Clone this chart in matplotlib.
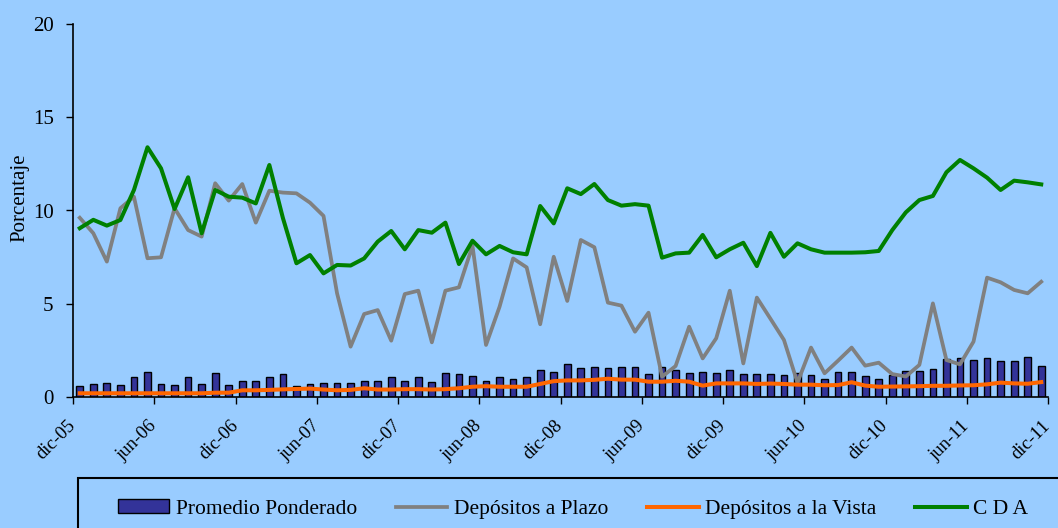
import numpy as np
import matplotlib
matplotlib.use("Agg")
import matplotlib.pyplot as plt
import matplotlib.transforms as mtransforms
from matplotlib.patches import Rectangle

# Tasas mensuales (porcentaje), dic-05 .. nov-11
promedio = [0.6, 0.68, 0.73, 0.66, 1.07, 1.34, 0.71, 0.64, 1.09, 0.71, 1.3, 0.64,
            0.87, 0.87, 1.09, 1.25, 0.61, 0.7, 0.73, 0.77, 0.75, 0.87, 0.87, 1.05,
            0.87, 1.09, 0.82, 1.27, 1.22, 1.13, 0.87, 1.05, 0.98, 1.05, 1.45, 1.34,
            1.79, 1.58, 1.61, 1.56, 1.61, 1.6, 1.22, 1.61, 1.43, 1.3, 1.36, 1.29,
            1.43, 1.25, 1.22, 1.26, 1.2, 1.3, 1.2, 0.98, 1.36, 1.34, 1.11, 0.98,
            1.16, 1.4, 1.4, 1.52, 2.06, 2.07, 1.97, 2.07, 1.91, 1.95, 2.13, 1.64]
plazo = [9.61, 8.78, 7.26, 10.12, 10.74, 7.44, 7.49, 10.12, 8.95, 8.6, 11.46, 10.53,
         11.42, 9.35, 11.06, 10.96, 10.92, 10.42, 9.71, 5.56, 2.7, 4.45, 4.66, 3.02,
         5.52, 5.7, 2.93, 5.7, 5.88, 8.1, 2.79, 4.84, 7.43, 6.95, 3.9, 7.52,
         5.15, 8.42, 8.03, 5.06, 4.9, 3.5, 4.52, 1.09, 1.66, 3.77, 2.07, 3.15,
         5.7, 1.8, 5.33, 4.2, 3.06, 0.77, 2.65, 1.27, 1.95, 2.65, 1.68, 1.84,
         1.23, 1.1, 1.72, 5.02, 1.98, 1.75, 2.97, 6.4, 6.15, 5.74, 5.56, 6.18]
vista = [0.2, 0.2, 0.2, 0.2, 0.2, 0.2, 0.2, 0.2, 0.2, 0.2, 0.23, 0.23,
         0.36, 0.36, 0.38, 0.41, 0.43, 0.45, 0.4, 0.36, 0.38, 0.47, 0.4, 0.4,
         0.42, 0.42, 0.4, 0.42, 0.47, 0.55, 0.58, 0.55, 0.55, 0.55, 0.7, 0.85,
         0.89, 0.89, 0.92, 0.98, 0.93, 0.93, 0.82, 0.82, 0.87, 0.82, 0.61, 0.73,
         0.73, 0.73, 0.7, 0.72, 0.7, 0.66, 0.66, 0.63, 0.64, 0.79, 0.61, 0.55,
         0.56, 0.57, 0.58, 0.6, 0.6, 0.62, 0.63, 0.68, 0.77, 0.73, 0.71, 0.8]
cda = [9.05, 9.5, 9.19, 9.49, 11.1, 13.39, 12.26, 10.08, 11.78, 8.78, 11.1, 10.74,
       10.69, 10.38, 12.44, 9.6, 7.17, 7.61, 6.63, 7.08, 7.05, 7.43, 8.33, 8.9,
       7.92, 8.95, 8.81, 9.35, 7.13, 8.38, 7.65, 8.1, 7.76, 7.65, 10.24, 9.31,
       11.19, 10.88, 11.42, 10.56, 10.26, 10.34, 10.26, 7.47, 7.7, 7.74, 8.69, 7.49,
       7.92, 8.27, 7.02, 8.8, 7.52, 8.24, 7.92, 7.74, 7.74, 7.74, 7.76, 7.83,
       8.95, 9.9, 10.56, 10.78, 12.05, 12.71, 12.26, 11.76, 11.1, 11.6, 11.51, 11.4]
etiquetas = ["dic-05", "jun-06", "dic-06", "jun-07", "dic-07", "jun-08", "dic-08",
             "jun-09", "dic-09", "jun-10", "dic-10", "jun-11", "dic-11"]

fondo = "#99CCFF"
plt.rcParams["font.family"] = ["Liberation Serif", "DejaVu Serif"]

fig = plt.figure(figsize=(10.58, 5.28), dpi=100, facecolor=fondo)
ax = fig.add_axes([73 / 1058, 131 / 528, 975 / 1058, 373 / 528], facecolor=fondo)

x = np.arange(len(promedio))
barras = ax.bar(x, promedio, width=0.5, color="#333399", edgecolor="black",
                linewidth=1.0, zorder=2)
l1, = ax.plot(x, plazo, color="#808080", lw=2.7, zorder=3)
l2, = ax.plot(x, vista, color="#FF6600", lw=2.9, zorder=4)
l3, = ax.plot(x, cda, color="#008000", lw=2.9, zorder=5)

ax.set_xlim(-0.5, len(x) - 0.5)
ax.set_ylim(0, 20)
ax.set_yticks([0, 5, 10, 15, 20])
ticks = np.arange(len(etiquetas)) * 6 - 0.5
ax.set_xticks(ticks)
ax.set_xticklabels(etiquetas, rotation=45, ha="right", va="center",
                   rotation_mode="anchor")
offset = mtransforms.ScaledTranslation(0.25, -0.03, fig.dpi_scale_trans)
for lab in ax.get_xticklabels():
    lab.set_transform(lab.get_transform() + offset)

ax.tick_params(axis="both", direction="out", length=5, width=1)
ax.tick_params(axis="x", pad=14, labelsize=13.5)
ax.tick_params(axis="y", pad=9, labelsize=15)
ax.set_ylabel("Porcentaje", fontsize=15)
ax.yaxis.set_label_coords(-0.045, 0.535)
for s in ["top", "right"]:
    ax.spines[s].set_visible(False)
for s in ["left", "bottom"]:
    ax.spines[s].set_linewidth(1.2)

# recuadro de la leyenda, se sale por la derecha y por abajo
fig.patches.append(Rectangle((78 / 1058, -0.2), 1.0, 0.2 + 50 / 528,
                             transform=fig.transFigure, fill=False,
                             edgecolor="black", lw=1.5))
fig.legend([barras, l1, l2, l3],
           ["Promedio Ponderado", "Depósitos a Plazo", "Depósitos a la Vista", "C D A"],
           ncol=4, loc="center left", bbox_to_anchor=(109 / 1058, 19 / 528),
           frameon=False, fontsize=15.5, handlelength=2.4, handleheight=0.6,
           handletextpad=0.3, columnspacing=1.8, borderaxespad=0)

fig.savefig("out.png", dpi=100, facecolor=fondo)
